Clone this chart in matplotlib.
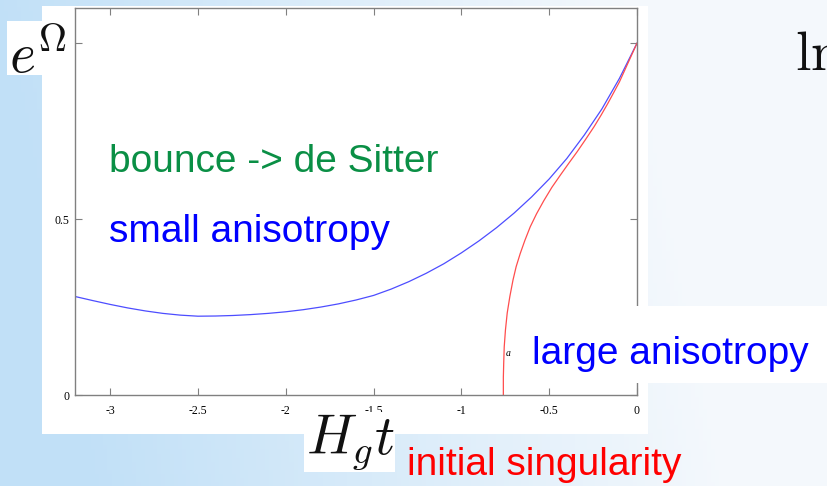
import numpy as np
import matplotlib
matplotlib.use('Agg')
import matplotlib.pyplot as plt
from matplotlib import font_manager
from matplotlib.patches import Rectangle

W, H = 827, 486

# e^Omega against H_g t
blue_t = [-3.2, -3.1, -3.0, -2.9, -2.8, -2.7, -2.6, -2.5, -2.4, -2.3, -2.2, -2.1, -2.0,
          -1.9, -1.8, -1.7, -1.6, -1.5, -1.4, -1.3, -1.2, -1.1, -1.0, -0.9, -0.8,
          -0.7, -0.6, -0.5, -0.4, -0.3, -0.2, -0.1, 0.0]
blue_y = [0.280, 0.2685, 0.2575, 0.2475, 0.239, 0.232, 0.227, 0.224, 0.2245, 0.226,
          0.2285, 0.232, 0.2365, 0.2425, 0.250, 0.259, 0.270, 0.283, 0.301, 0.322,
          0.346, 0.373, 0.404, 0.438, 0.4755, 0.517, 0.563, 0.614, 0.672, 0.739,
          0.813, 0.900, 1.0]
red_t = [-0.761, -0.761, -0.759, -0.756, -0.749, -0.739, -0.724, -0.706, -0.688, -0.665,
         -0.638, -0.608, -0.572, -0.531, -0.485, -0.435, -0.388, -0.340, -0.292, -0.244,
         -0.205, -0.167, -0.13, -0.1, -0.05, 0.0]
red_y = [0.0, 0.05, 0.09, 0.137, 0.185, 0.233, 0.280, 0.327, 0.365, 0.402,
         0.440, 0.478, 0.515, 0.552, 0.590, 0.626, 0.659, 0.692, 0.727, 0.763,
         0.795, 0.828, 0.862, 0.890, 0.945, 1.0]

xticks = [-3, -2.5, -2, -1.5, -1, -0.5, 0]
xticklabels = ['-3', '-2.5', '-2', '-1.5', '-1', '-0.5', '0']
yticks = [0, 0.5, 1]
yticklabels = ['0', '0.5', '']

plt.rcParams['mathtext.fontset'] = 'cm'

# narrow sans looks closest to the slide lettering
try:
    font_manager.findfont(font_manager.FontProperties(family='Liberation Sans Narrow'),
                          fallback_to_default=False)
    label_font, label_size = 'Liberation Sans Narrow', 33
except ValueError:
    label_font, label_size = 'Liberation Sans', 28


def fx(x):
    return x / W


def fy(y):
    return 1 - y / H


fig = plt.figure(figsize=(W / 100, H / 100), dpi=100)

# slide background gradient
bg = fig.add_axes([0, 0, 1, 1], zorder=-10)
gx = np.linspace(0, 1, 200)
gy = np.linspace(0, 1, 120)
GX, GY = np.meshgrid(gx, gy)
left = np.array([0.76, 0.88, 0.97])
right = np.array([0.96, 0.975, 0.99])
mix = np.clip(GX * 1.3 - 0.15 * GY, 0, 1)[..., None]
img = left * (1 - mix) + right * mix
bg.imshow(img, aspect='auto', extent=[0, 1, 0, 1], origin='upper')
bg.axis('off')

# white panel behind the plot
fig.patches.append(Rectangle((fx(42), fy(434)), fx(648 - 42), (434 - 6) / H,
                             transform=fig.transFigure, facecolor='white',
                             edgecolor='none', zorder=-5))

ax = fig.add_axes([fx(75), fy(395), fx(637 - 75), (395 - 8) / H])
ax.set_facecolor('white')
ax.plot(blue_t, blue_y, color='#4d4dff', lw=0.9)
ax.plot(red_t, red_y, color='#ff4d4d', lw=0.9)
ax.set_xlim(-3.2, 0)
ax.set_ylim(0, 1.1)
ax.set_xticks(xticks)
ax.set_xticklabels(xticklabels)
ax.set_yticks(yticks)
ax.set_yticklabels(yticklabels)
ax.tick_params(direction='in', length=5, width=0.8, color='#808080',
               top=True, right=True, labelsize=8.5,
               labelfontfamily='Liberation Serif')
ax.tick_params(axis='x', pad=7)
ax.tick_params(axis='y', pad=4)
for s in ax.spines.values():
    s.set_color('#808080')
    s.set_linewidth(1.0)
ax.text(-0.745, 0.11, 'a', fontsize=7, family='Liberation Serif', style='italic')

# white boxes pasted over the plot
for (x0, y0, x1, y1) in [(7, 21, 42, 75), (520, 306, 827, 383), (304, 412, 395, 472)]:
    fig.patches.append(Rectangle((fx(x0), fy(y1)), fx(x1 - x0), (y1 - y0) / H,
                                 transform=fig.transFigure, facecolor='white',
                                 edgecolor='none', zorder=1))

fig.text(fx(9), fy(73), r'$e^{\Omega}$', fontsize=40, color='#111111', zorder=2)
fig.text(fx(306), fy(454), r'$H_g t$', fontsize=40, color='#111111', zorder=2)
fig.text(fx(795), fy(70), r'$\mathrm{ln}$', fontsize=40, color='#111111', zorder=2)

fig.text(fx(109), fy(172), 'bounce -> de Sitter', color='#0a8f45',
         family=label_font, fontsize=label_size, zorder=2)
fig.text(fx(109), fy(242), 'small anisotropy', color='#0000ff',
         family=label_font, fontsize=label_size, zorder=2)
fig.text(fx(532), fy(364), 'large anisotropy', color='#0000ff',
         family=label_font, fontsize=label_size, zorder=2)
fig.text(fx(407), fy(475), 'initial singularity', color='#ff0000',
         family=label_font, fontsize=label_size, zorder=2)

fig.savefig('out.png', dpi=100)
